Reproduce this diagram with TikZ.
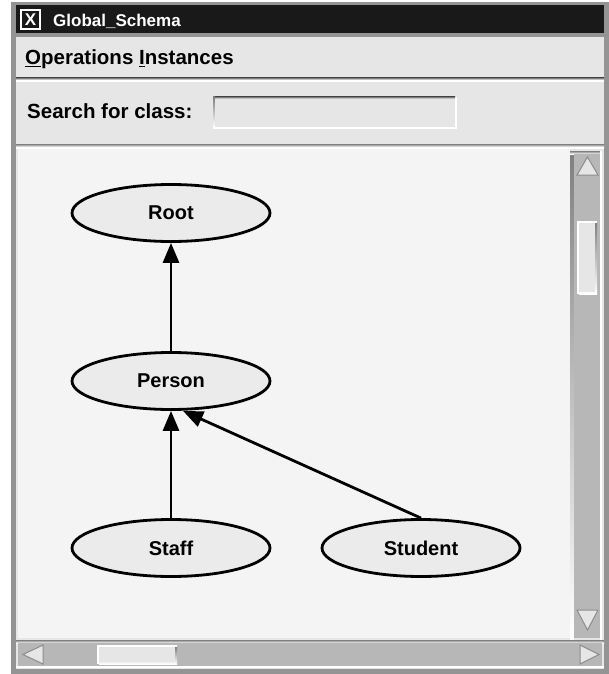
\documentclass[tikz,border=0pt]{standalone}
\usepackage{fontspec}
\setmainfont{Liberation Sans}
\usetikzlibrary{arrows.meta,shapes.geometric}
\definecolor{winbg}{HTML}{E6E6E6}
\definecolor{canvasbg}{HTML}{F4F4F4}
\definecolor{nodebg}{HTML}{EBEBEB}
\definecolor{trough}{HTML}{B7B7B7}
\definecolor{shade}{HTML}{8C8C8C}
\definecolor{frame}{HTML}{949494}
\tikzset{
  cls/.style={ellipse, draw=black, line width=2.8pt, fill=nodebg,
    minimum width=198pt, minimum height=57pt, inner sep=0pt,
    font=\fontsize{20}{20}\selectfont\bfseries},
  isa/.style={line width=2.8pt, -{Triangle[length=20pt,width=16pt]}},
  uitext/.style={font=\fontsize{20.5}{20.5}\selectfont\bfseries, inner sep=0pt, anchor=base west},
  arrowtri/.style={fill=winbg, draw=shade, line width=1pt}
}
\begin{document}
\begin{tikzpicture}[x=1pt,y=-1pt]
\useasboundingbox (0,0) rectangle (609,674);
\fill[white] (0,0) rectangle (609,674);
% window frame
\fill[frame] (11,2) rectangle (609,674);
% title bar
\fill[black!90] (16,5) rectangle (604,33);
\node[draw=white, line width=1.2pt, minimum width=19pt, minimum height=19pt, inner sep=0pt,
  font=\fontsize{17}{17}\selectfont\bfseries, text=white] (icon) at (30.5,19.5) {X};
\node[font=\fontsize{17}{17}\selectfont\bfseries, text=white, inner sep=0pt, anchor=base west]
  (title) at (53,27) {Global\_Schema};
% window body
\fill[winbg] (16,37) rectangle (604,669);
% menu bar
\node[uitext] (menu) at (25,65) {\underline{O}perations \underline{I}nstances};
\fill[shade] (16,78) rectangle (604,80);
\fill[white] (16,80) rectangle (604,82);
% search row
\node[uitext] (search) at (27,118) {Search for class:};
\fill[white] (213,97) rectangle (457,129);
\fill[shade] (213,97) rectangle (455,99);
\fill[shade] (213,97) rectangle (215,127);
\fill[winbg] (215,99) rectangle (455,127);
\fill[shade] (16,144) rectangle (604,147);
\fill[white] (16,147) rectangle (604,149);
% canvas
\fill[canvasbg] (18,149) rectangle (570,638);
% vertical scrollbar
\fill[shade] (570,151) rectangle (574,640);
\fill[shade] (570,151) rectangle (602,154);
\fill[trough] (574,154) rectangle (600,638);
\fill[white] (600,151) rectangle (602,640);
\fill[arrowtri] (587.5,157) -- (598,175) -- (577,175) -- cycle;
\fill[arrowtri] (587.5,630) -- (598,610) -- (577,610) -- cycle;
\fill[white] (577,221) rectangle (597,294);
\fill[shade] (579,223) rectangle (597,294);
\fill[winbg] (579,223) rectangle (595,292);
% horizontal scrollbar
\fill[shade] (16,640) rectangle (604,643);
\fill[trough] (18,643) rectangle (602,666);
\fill[white] (16,666) rectangle (604,668);
\fill[arrowtri] (23,654.5) -- (43,645) -- (43,664) -- cycle;
\fill[arrowtri] (599,654.5) -- (580,645) -- (580,664) -- cycle;
\fill[white] (97,645) rectangle (177,664);
\fill[shade] (99,647) rectangle (177,664);
\fill[winbg] (99,647) rectangle (175,662);
% class graph
\node[cls] (root) at (171,213) {Root};
\node[cls] (person) at (171,381) {Person};
\node[cls] (staff) at (171,548) {Staff};
\node[cls] (student) at (421,548) {Student};
\draw[isa] (person.north) -- (root.south);
\draw[isa] (staff.north) -- (person.south);
\draw[isa] (student.north) -- ([xshift=12pt]person.south);
\end{tikzpicture}
\end{document}
